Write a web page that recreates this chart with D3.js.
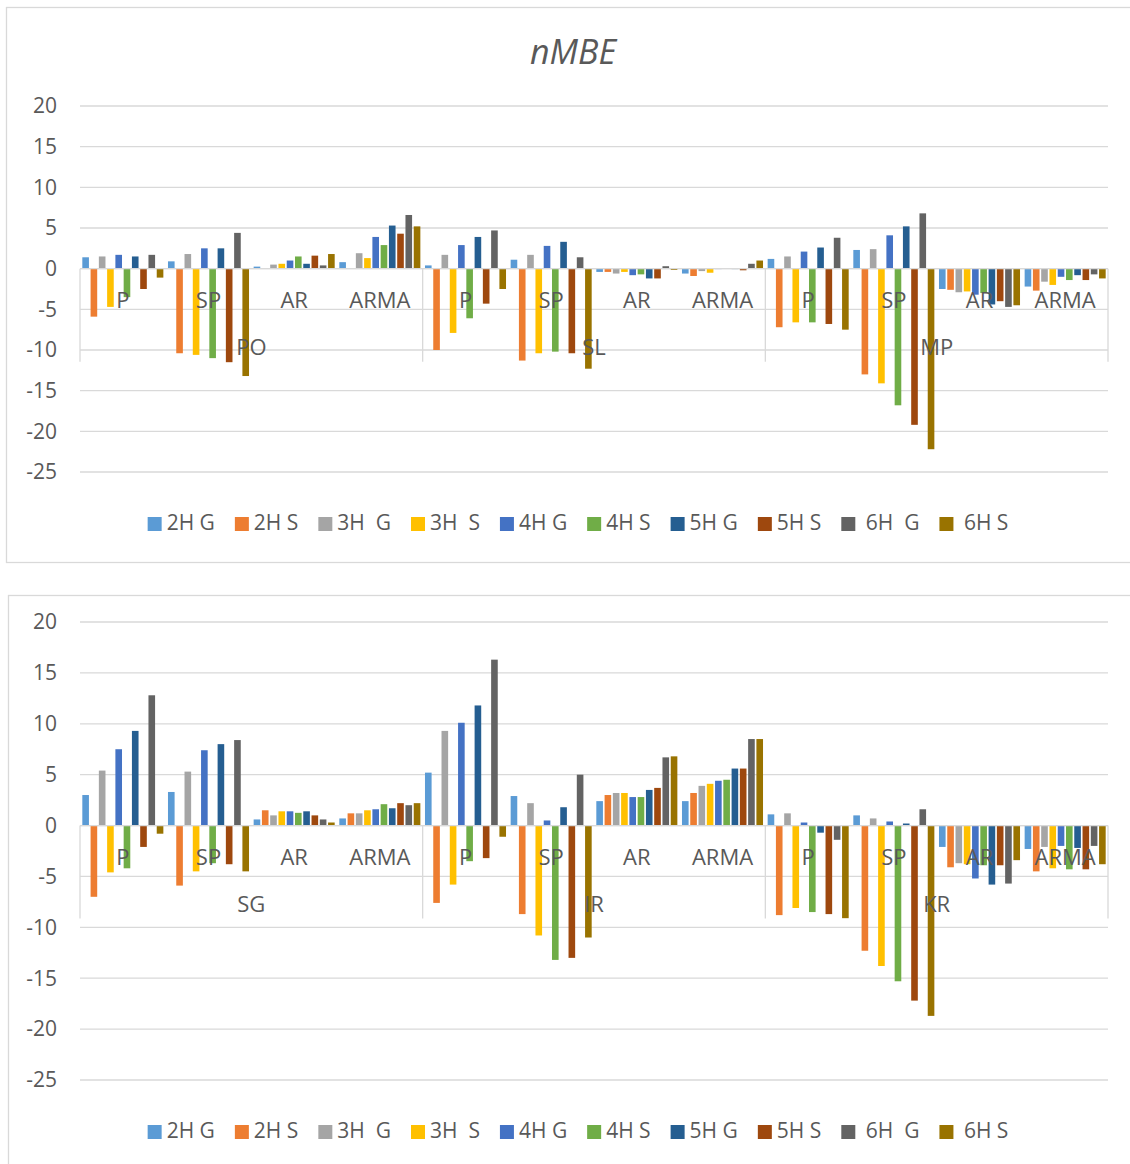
<!DOCTYPE html>
<html>
<head>
<meta charset="utf-8">
<script src="https://cdn.jsdelivr.net/npm/d3@7"></script>
<style>
  html, body { margin: 0; padding: 0; background: #ffffff; }
  svg text { font-family: "Open Sans", Lato, sans-serif; fill: #595959; }
</style>
</head>
<body>
<svg id="chart" width="1130" height="1164"></svg>
<script>
// ---------- data ----------
const methods = ["P", "SP", "AR", "ARMA"];
const seriesNames = ["2H G", "2H S", "3H  G", "3H  S", "4H G", "4H S", "5H G", "5H S", " 6H  G", " 6H S"];
const seriesColors = ["#5B9BD5", "#ED7D31", "#A5A5A5", "#FFC000", "#4472C4", "#70AD47", "#255E91", "#9E480E", "#636363", "#997300"];
const yTicks = [20, 15, 10, 5, 0, -5, -10, -15, -20, -25];
const title = "nMBE";

const topSites = ["PO", "SL", "MP"];
const bottomSites = ["SG", "IR", "KR"];

// each site: rows = P, SP, AR, ARMA ; columns = series (2H G ... 6H S)
const PO = [
  [1.4, -5.9, 1.5, -4.7, 1.7, -3.5, 1.5, -2.5, 1.7, -1.1],
  [0.9, -10.4, 1.8, -10.6, 2.5, -11.0, 2.5, -11.5, 4.4, -13.2],
  [0.25, 0.05, 0.5, 0.6, 1.0, 1.5, 0.6, 1.6, 0.4, 1.8],
  [0.8, 0.05, 1.9, 1.3, 3.9, 2.9, 5.3, 4.3, 6.6, 5.2]
];
const SL = [
  [0.4, -10.0, 1.7, -7.9, 2.9, -6.1, 3.9, -4.3, 4.7, -2.5],
  [1.1, -11.3, 1.7, -10.4, 2.8, -10.2, 3.3, -10.4, 1.4, -12.3],
  [-0.4, -0.4, -0.6, -0.4, -0.8, -0.7, -1.2, -1.2, 0.3, -0.15],
  [-0.6, -0.9, -0.3, -0.5, -0.05, 0.05, -0.05, -0.2, 0.6, 1.0]
];
const MP = [
  [1.2, -7.2, 1.5, -6.6, 2.1, -6.6, 2.6, -6.8, 3.8, -7.5],
  [2.3, -13.0, 2.4, -14.1, 4.1, -16.8, 5.2, -19.2, 6.8, -22.2],
  [-2.5, -2.6, -2.9, -2.8, -3.2, -3.0, -4.4, -4.0, -4.7, -4.5],
  [-2.2, -2.7, -1.6, -2.0, -1.0, -1.4, -0.8, -1.4, -0.7, -1.2]
];
const SG = [
  [3.0, -7.0, 5.4, -4.6, 7.5, -4.2, 9.3, -2.1, 12.8, -0.8],
  [3.3, -5.9, 5.3, -4.5, 7.4, -3.7, 8.0, -3.8, 8.4, -4.5],
  [0.6, 1.5, 1.0, 1.4, 1.4, 1.25, 1.4, 1.0, 0.6, 0.3],
  [0.7, 1.2, 1.2, 1.5, 1.6, 2.1, 1.7, 2.2, 2.0, 2.2]
];
const IR = [
  [5.2, -7.6, 9.3, -5.8, 10.1, -3.5, 11.8, -3.2, 16.3, -1.1],
  [2.9, -8.7, 2.2, -10.8, 0.5, -13.2, 1.8, -13.0, 5.0, -11.0],
  [2.4, 3.0, 3.2, 3.2, 2.8, 2.8, 3.5, 3.7, 6.7, 6.8],
  [2.4, 3.2, 3.9, 4.1, 4.4, 4.5, 5.6, 5.6, 8.5, 8.5]
];
const KR = [
  [1.1, -8.8, 1.2, -8.1, 0.3, -8.5, -0.7, -8.7, -1.4, -9.1],
  [1.0, -12.3, 0.7, -13.8, 0.4, -15.3, 0.2, -17.2, 1.6, -18.7],
  [-2.1, -4.1, -3.7, -3.8, -5.2, -3.9, -5.8, -3.9, -5.7, -3.4],
  [-2.3, -4.5, -2.1, -4.2, -2.0, -4.3, -2.2, -4.3, -2.0, -3.8]
];
const siteValues = { PO, SL, MP, SG, IR, KR };

// ---------- drawing ----------
const svg = d3.select("#chart");

function drawPanel(cfg) {
  const g = svg.append("g");
  // panel border
  g.append("rect")
    .attr("x", cfg.box[0]).attr("y", cfg.box[1])
    .attr("width", cfg.box[2]).attr("height", cfg.box[3])
    .attr("fill", "none").attr("stroke", "#d9d9d9").attr("stroke-width", 1.3);

  const y = d3.scaleLinear().domain([-25, 20]).range([cfg.yBottom, cfg.yTop]);
  const x0 = d3.scaleBand().domain(cfg.sites).range([80, 1108]).padding(0);
  const x1 = d3.scaleBand().domain(methods).range([0, x0.bandwidth()]).padding(0);
  const x2 = d3.scaleBand().domain(d3.range(seriesNames.length))
    .range([0, x1.bandwidth()]).paddingInner(0.2).paddingOuter(0.28);

  // gridlines
  g.append("g").selectAll("line").data(yTicks).join("line")
    .attr("x1", 80).attr("x2", 1108)
    .attr("y1", d => y(d)).attr("y2", d => y(d))
    .attr("stroke", "#d9d9d9").attr("stroke-width", 1.3);

  // y tick labels
  g.append("g").selectAll("text").data(yTicks).join("text")
    .attr("x", 57).attr("y", d => y(d)).attr("dy", "0.35em")
    .attr("text-anchor", "end").attr("font-size", 21)
    .text(d => d);

  // bars
  const bars = [];
  cfg.sites.forEach(site => {
    siteValues[site].forEach((row, mi) => {
      row.forEach((v, si) => bars.push({ site, method: methods[mi], si, v }));
    });
  });
  g.append("g").selectAll("rect").data(bars).join("rect")
    .attr("x", d => x0(d.site) + x1(d.method) + x2(d.si))
    .attr("width", x2.bandwidth())
    .attr("y", d => y(Math.max(0, d.v)))
    .attr("height", d => Math.abs(y(d.v) - y(0)))
    .attr("fill", d => seriesColors[d.si]);

  // zero axis line
  g.append("line").attr("x1", 80).attr("x2", 1108)
    .attr("y1", y(0)).attr("y2", y(0))
    .attr("stroke", "#d9d9d9").attr("stroke-width", 1.3);

  // group separators
  const seps = cfg.sites.map(s => x0(s)).concat([1108]);
  g.append("g").selectAll("line").data(seps).join("line")
    .attr("x1", d => d).attr("x2", d => d)
    .attr("y1", y(0)).attr("y2", y(0) + 93)
    .attr("stroke", "#d9d9d9").attr("stroke-width", 1.3);

  // method labels
  const mLabels = [];
  cfg.sites.forEach(site => methods.forEach(m => mLabels.push({ site, m })));
  g.append("g").selectAll("text").data(mLabels).join("text")
    .attr("x", d => x0(d.site) + x1(d.m) + x1.bandwidth() / 2)
    .attr("y", y(0) + 32).attr("dy", "0.35em")
    .attr("text-anchor", "middle").attr("font-size", 22)
    .text(d => d.m);

  // site labels
  g.append("g").selectAll("text").data(cfg.sites).join("text")
    .attr("x", d => x0(d) + x0.bandwidth() / 2)
    .attr("y", y(0) + 79).attr("dy", "0.35em")
    .attr("text-anchor", "middle").attr("font-size", 22)
    .text(d => d);

  // title
  if (cfg.title) {
    g.append("text").attr("x", 573).attr("y", 52).attr("dy", "0.35em")
      .attr("text-anchor", "middle").attr("font-size", 34)
      .attr("font-style", "italic").text(cfg.title);
  }

  // legend
  const lg = g.append("g");
  const items = lg.selectAll("g").data(seriesNames).join("g");
  items.append("rect").attr("width", 14).attr("height", 14).attr("y", -6)
    .attr("fill", (d, i) => seriesColors[i]);
  items.append("text").attr("x", 19).attr("dy", "0.35em")
    .attr("font-size", 21).style("white-space", "pre").text(d => d);
  let xpos = 0;
  items.each(function () {
    const w = d3.select(this).select("text").node().getComputedTextLength();
    d3.select(this).attr("transform", `translate(${xpos},0)`);
    xpos += 19 + w + 20;
  });
  const total = xpos - 20;
  lg.attr("transform", `translate(${578 - total / 2},${cfg.legendY})`);
}

drawPanel({ sites: topSites, yTop: 106, yBottom: 472, legendY: 523, box: [6.5, 7.5, 1140, 555], title: title });
drawPanel({ sites: bottomSites, yTop: 622, yBottom: 1080, legendY: 1131, box: [8.5, 595.5, 1140, 600] });
</script>
</body>
</html>
